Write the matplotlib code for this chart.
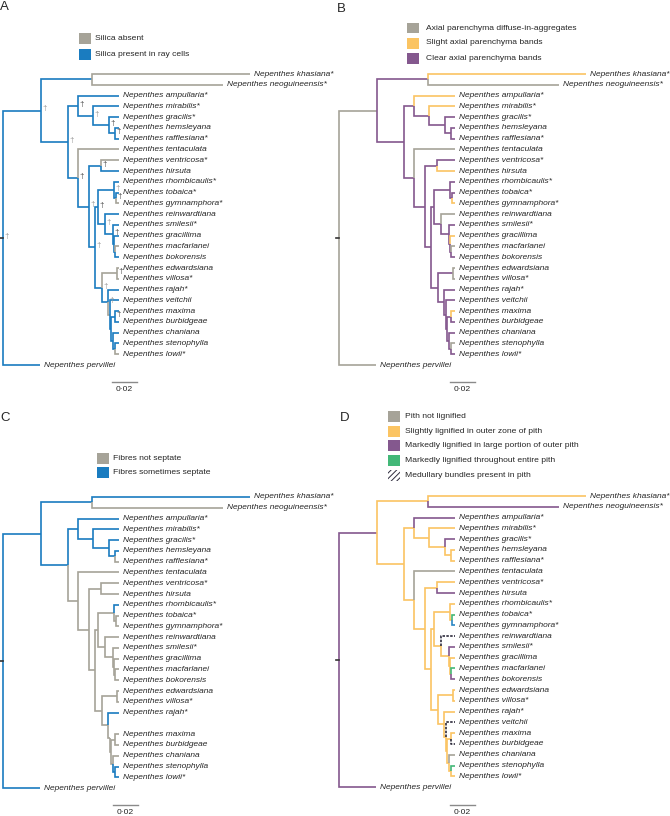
import matplotlib
matplotlib.use("Agg")
import matplotlib.pyplot as plt
from matplotlib.patches import Rectangle

plt.rcParams['font.family'] = ['Liberation Sans', 'DejaVu Sans']
plt.rcParams['hatch.linewidth'] = 0.7

# -------------------------
# data
# -------------------------
# tips, top to bottom
taxa = ["khasiana", "neoguineensis", "ampullaria", "mirabilis", "gracilis",
        "hemsleyana", "rafflesiana", "tentaculata", "ventricosa", "hirsuta",
        "rhombicaulis", "tobaica", "gymnamphora", "reinwardtiana", "smilesii",
        "gracillima", "macfarlanei", "bokorensis", "edwardsiana", "villosa",
        "rajah", "veitchii", "maxima", "burbidgeae", "chaniana", "stenophylla",
        "lowii", "pervillei"]
starred = ["khasiana", "neoguineensis", "ampullaria", "mirabilis", "gracilis",
           "rafflesiana", "ventricosa", "rhombicaulis", "tobaica", "gymnamphora",
           "smilesii", "villosa", "rajah", "lowii"]

# (node, parent, distance from root)
tree = [
    ("root", None, 0.0),
    ("N1", "root", 0.0304),
    ("K", "N1", 0.0712),
    ("khasiana", "K", 0.1976),
    ("neoguineensis", "K", 0.1760),
    ("N2", "N1", 0.0520),
    ("A", "N2", 0.0600),
    ("ampullaria", "A", 0.0928),
    ("A2", "A", 0.0720),
    ("mirabilis", "A2", 0.0928),
    ("A3", "A2", 0.0848),
    ("gracilis", "A3", 0.0928),
    ("A4", "A3", 0.0896),
    ("hemsleyana", "A4", 0.0928),
    ("rafflesiana", "A4", 0.0928),
    ("N3", "N2", 0.0600),
    ("tentaculata", "N3", 0.0928),
    ("N4", "N3", 0.0688),
    ("V", "N4", 0.0784),
    ("ventricosa", "V", 0.0928),
    ("hirsuta", "V", 0.0928),
    ("N5", "N4", 0.0736),
    ("N6", "N5", 0.0760),
    ("R", "N6", 0.0888),
    ("rhombicaulis", "R", 0.0928),
    ("R2", "R", 0.0904),
    ("tobaica", "R2", 0.0928),
    ("gymnamphora", "R2", 0.0928),
    ("S", "N6", 0.0816),
    ("reinwardtiana", "S", 0.0928),
    ("S2", "S", 0.0880),
    ("smilesii", "S2", 0.0928),
    ("S4", "S2", 0.0888),
    ("gracillima", "S4", 0.0928),
    ("S3", "S4", 0.0896),
    ("macfarlanei", "S3", 0.0928),
    ("bokorensis", "S3", 0.0928),
    ("N7", "N5", 0.0792),
    ("E", "N7", 0.0912),
    ("edwardsiana", "E", 0.0928),
    ("villosa", "E", 0.0928),
    ("Rj", "N7", 0.0840),
    ("rajah", "Rj", 0.0928),
    ("Rj2", "Rj", 0.0856),
    ("veitchii", "Rj2", 0.0924),
    ("Rj3", "Rj2", 0.0864),
    ("MB", "Rj3", 0.0896),
    ("maxima", "MB", 0.0928),
    ("burbidgeae", "MB", 0.0928),
    ("Rj4", "Rj3", 0.0880),
    ("chaniana", "Rj4", 0.0928),
    ("SL", "Rj4", 0.0896),
    ("stenophylla", "SL", 0.0928),
    ("lowii", "SL", 0.0928),
    ("pervillei", "root", 0.0296),
]

GRAY = "#a6a398"
BLUE = "#1a7cc0"
ORANGE = "#fbc462"
PURPLE = "#84588e"
GREEN = "#43b878"
TEAL = "#2a86c4"
HATCH = "#2e2b3c"

# (A) silica
silica_labels = ["Silica absent", "Silica present in ray cells"]
silica_gray = ["khasiana", "neoguineensis", "tentaculata", "ventricosa",
               "gymnamphora", "macfarlanei", "E", "edwardsiana", "villosa",
               "Rj2", "lowii"]
dagger_dark = ["A", "A3", "N3", "V", "N6", "S2", "E", "MB", "R2", "A4"]
dagger_light = ["root", "N1", "N2", "A2", "N4", "S", "R", "N5", "N7", "Rj"]

# (B) axial parenchyma
paren_labels = ["Axial parenchyma diffuse-in-aggregates",
                "Slight axial parenchyma bands", "Clear axial parenchyma bands"]
paren_gray = ["N1", "pervillei", "neoguineensis", "tentaculata", "reinwardtiana",
              "macfarlanei", "edwardsiana", "villosa", "stenophylla"]
paren_orange = ["khasiana", "ampullaria", "mirabilis", "hirsuta", "gymnamphora",
                "gracillima", "maxima"]

# (C) fibres
fibre_labels = ["Fibres not septate", "Fibres sometimes septate"]
fibre_blue = ["N1", "pervillei", "K", "khasiana", "N2", "A", "ampullaria", "A2",
              "mirabilis", "A3", "gracilis", "A4", "hemsleyana", "rhombicaulis",
              "rajah", "SL", "stenophylla", "lowii"]
fibre_missing = ["veitchii"]

# (D) pith
pith_labels = ["Pith not lignified", "Slightly lignified in outer zone of pith",
               "Markedly lignified in large portion of outer pith",
               "Markedly lignified throughout entire pith",
               "Medullary bundles present in pith"]
pith_purple = ["N1", "pervillei", "neoguineensis", "ampullaria", "gracilis",
               "hirsuta", "smilesii", "bokorensis"]
pith_gray = ["tentaculata", "chaniana"]
pith_green = ["tobaica", "macfarlanei", "stenophylla"]
pith_teal = ["gymnamphora"]
pith_hatch = ["reinwardtiana", "veitchii", "burbidgeae"]

scale_len = 0.02

# -------------------------
# tree layout
# -------------------------
children, depth = {}, {}
for name, parent, d in tree:
    depth[name] = d
    if parent is not None:
        children.setdefault(parent, []).append(name)

ypos = {}
def set_y(n):
    if n in children:
        ys = [set_y(c) for c in children[n]]
        ypos[n] = (ys[0] + ys[-1]) / 2
    else:
        ypos[n] = taxa.index(n)
    return ypos[n]
set_y("root")

W, H = 670, 816
PX = 1250.0    # pixels per substitution unit
DY = 10.78     # pixels per tip row
QW, QH = 335, 408
LW = 1.2
TXT = "#262626"

fig = plt.figure(figsize=(W / 100, H / 100), dpi=100)
fig.patch.set_facecolor("white")


def make_panel(ox, oy, root_px, top_px):
    ax = fig.add_axes([ox / W, 1 - (oy + QH) / H, QW / W, QH / H])
    ax.set_xlim(-root_px / PX, (QW - root_px) / PX)
    ax.set_ylim((QH - top_px) / DY, -top_px / DY)
    ax.axis("off")
    fx = lambda p: (p - root_px) / PX
    fy = lambda p: (p - top_px) / DY
    return ax, fx, fy


def draw_tree(ax, colour, dashed=(), skip=()):
    for name, parent, d in tree:
        if parent is None or name in skip:
            continue
        xp, yp = depth[parent], ypos[parent]
        ls = (0, (1.5, 0.8)) if name in dashed else "-"
        ax.plot([xp, xp, d], [yp, ypos[name], ypos[name]], color=colour(name),
                lw=LW, ls=ls, solid_joinstyle="miter", solid_capstyle="butt")
    ax.plot([-0.0025, 0], [ypos["root"]] * 2, color="#333333", lw=LW)
    for n in taxa:
        if n in skip:
            continue
        lab = "Nepenthes " + n + ("*" if n in starred else "")
        ax.text(depth[n] + 0.0033, ypos[n], lab, style="italic", fontsize=6.0,
                va="center", ha="left", color=TXT)


def legend(ax, fx, fy, sq_x, txt_x, rows, labels, colours, hatched=()):
    for cy, lab, col in zip(rows, labels, colours):
        if lab in hatched:
            ax.add_patch(Rectangle((fx(sq_x), fy(cy - 5.5)), 11.5 / PX, 11 / DY,
                                   fc="white", ec=HATCH, hatch="//////", lw=0))
        else:
            ax.add_patch(Rectangle((fx(sq_x), fy(cy - 5.5)), 11.5 / PX, 11 / DY,
                                   fc=col, ec="none"))
        ax.text(fx(txt_x), fy(cy), lab, fontsize=6.1, va="center", color=TXT)


def scale_bar(ax, fx, fy, x_px, y_px):
    ax.plot([fx(x_px), fx(x_px) + scale_len], [fy(y_px)] * 2, color="#8a8a8a", lw=1.0)
    ax.text(fx(x_px) + scale_len / 2, fy(y_px + 7.5), "0·02", fontsize=6.1,
            ha="center", va="center", color=TXT)


# (A) silica
ax, fx, fy = make_panel(0, 0, 3, 74)
draw_tree(ax, lambda n: GRAY if n in silica_gray else BLUE)
for n in dagger_dark + dagger_light:
    ax.text(depth[n] + 3.5 / PX, ypos[n] - 0.15, "†", fontsize=5.8, ha="center",
            va="center", color="#4d4d4d" if n in dagger_dark else "#9a9a9a")
legend(ax, fx, fy, 79, 95, [38.5, 54], silica_labels, [GRAY, BLUE])
scale_bar(ax, fx, fy, 112, 382)
ax.text(fx(-0.5), fy(7.5), "A", fontsize=9.5, va="center", ha="left", color=TXT)

# (B) axial parenchyma
ax, fx, fy = make_panel(335, 0, 4, 74)
draw_tree(ax, lambda n: GRAY if n in paren_gray else ORANGE if n in paren_orange else PURPLE)
legend(ax, fx, fy, 72, 91, [28, 43, 58], paren_labels, [GRAY, ORANGE, PURPLE])
scale_bar(ax, fx, fy, 115, 382)
ax.text(fx(1.5), fy(8.5), "B", fontsize=9.5, va="center", ha="left", color=TXT)

# (C) fibres
ax, fx, fy = make_panel(0, 408, 3, 89)
draw_tree(ax, lambda n: BLUE if n in fibre_blue else GRAY, skip=fibre_missing)
legend(ax, fx, fy, 97, 113, [50.5, 65], fibre_labels, [GRAY, BLUE])
scale_bar(ax, fx, fy, 112.5, 397)
ax.text(fx(0), fy(10), "C", fontsize=9.5, va="center", ha="left", color=TXT)


# (D) pith
def pith_colour(n):
    if n in pith_purple:
        return PURPLE
    if n in pith_gray:
        return GRAY
    if n in pith_green:
        return GREEN
    if n in pith_teal:
        return TEAL
    if n in pith_hatch:
        return HATCH
    return ORANGE


ax, fx, fy = make_panel(335, 408, 4, 88)
draw_tree(ax, pith_colour, dashed=pith_hatch)
legend(ax, fx, fy, 53, 70, [8, 23, 37, 52, 67], pith_labels,
       [GRAY, ORANGE, PURPLE, GREEN, "white"], hatched=[pith_labels[-1]])
scale_bar(ax, fx, fy, 115, 397)
ax.text(fx(5), fy(10), "D", fontsize=9.5, va="center", ha="left", color=TXT)

fig.savefig("out.png", dpi=100, facecolor="white")
